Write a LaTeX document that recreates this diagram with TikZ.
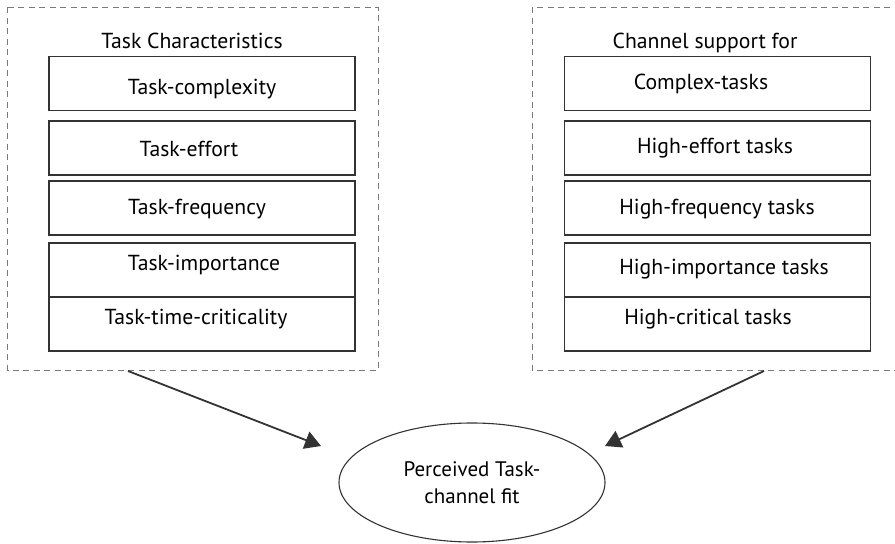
\documentclass[tikz,border=0pt]{standalone}
\usepackage{fontspec}
\setmainfont{PT Sans}
\usetikzlibrary{shapes.geometric,arrows.meta}
\definecolor{ln}{HTML}{333333}
\definecolor{dsh}{HTML}{7A7A7A}
\tikzset{
  grp/.style={draw=dsh,line width=1bp,dash pattern=on 6bp off 4.5bp},
  itembox/.style={draw=ln,line width=1.3bp,minimum width=306bp,minimum height=54bp,inner sep=0pt},
  itemtext/.style={font=\fontsize{21.7bp}{26bp}\selectfont,inner sep=0pt,anchor=base},
  ttl/.style={font=\fontsize{21.7bp}{26bp}\selectfont,inner sep=0pt,anchor=base},
  arr/.style={draw=ln,line width=1.8bp,-{Triangle[length=16bp,width=18bp]}},
}
\begin{document}
\begin{tikzpicture}[x=1bp,y=-1bp]
\useasboundingbox (0,0) rectangle (895,544);
\clip (0,0) rectangle (895,544);
% group boxes
\draw[grp] (7.5,7.5) rectangle (378,370);
\draw[grp] (532,7.5) rectangle (905,370);
\node[ttl] (lt) at (192,49) {Task Characteristics};
\node[ttl] (rt) at (705,49) {Channel support for};
% left boxes
\node[itembox] (l1) at (202,83.5) {};
\node[itembox] (l2) at (202,148) {};
\node[itembox] (l3) at (202,208) {};
\node[itembox] (l4) at (202,270) {};
\node[itembox] (l5) at (202,324) {};
\node[itemtext] (l1t) at (202,95) {Task-complexity};
\node[itemtext] (l2t) at (189,157) {Task-effort};
\node[itemtext] (l3t) at (197,215) {Task-frequency};
\node[itemtext] (l4t) at (204,271) {Task-importance};
\node[itemtext] (l5t) at (196,325) {Task-time-criticality};
% right boxes
\node[itembox] (r1) at (717.5,83.5) {};
\node[itembox] (r2) at (717.5,148) {};
\node[itembox] (r3) at (717.5,208) {};
\node[itembox] (r4) at (717.5,270) {};
\node[itembox] (r5) at (717.5,324) {};
\node[itemtext] (r1t) at (701,90) {Complex-tasks};
\node[itemtext] (r2t) at (715,154) {High-effort tasks};
\node[itemtext] (r3t) at (717,215) {High-frequency tasks};
\node[itemtext] (r4t) at (724,275) {High-importance tasks};
\node[itemtext] (r5t) at (708,325) {High-critical tasks};
% ellipse
\node[ellipse,draw=ln,line width=1.1bp,minimum width=266bp,minimum height=119bp,inner sep=0pt,
      align=center,font=\fontsize{21bp}{27bp}\selectfont] (fit) at (472,482.5) {Perceived Task-\\channel fit};
% arrows
\coordinate (ls) at (128,371);
\coordinate (le) at (321,446);
\coordinate (rs) at (764,371);
\coordinate (re) at (605,446);
\draw[arr] (ls) -- (le);
\draw[arr] (rs) -- (re);
\end{tikzpicture}
\end{document}
